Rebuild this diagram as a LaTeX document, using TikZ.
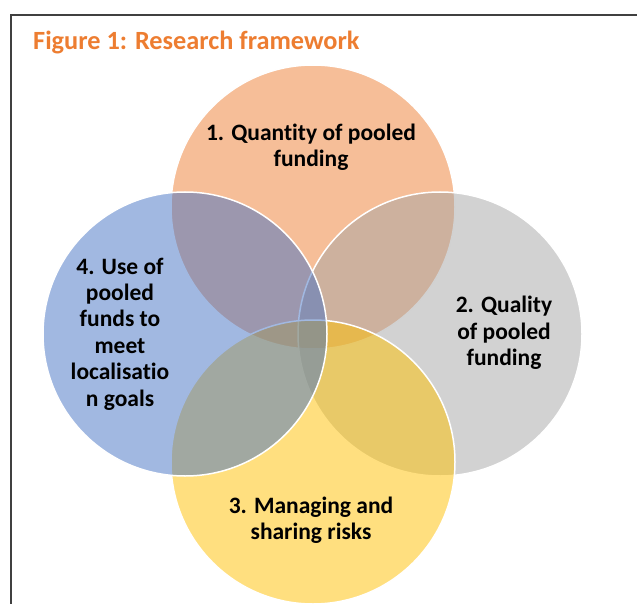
\documentclass[tikz,border=0pt]{standalone}
\usepackage{fontspec}
\setmainfont{Carlito}[Ligatures=NoCommon]
\definecolor{vennorange}{HTML}{ED7D31}
\definecolor{venngrey}{HTML}{A5A5A5}
\definecolor{vennyellow}{HTML}{FFC000}
\definecolor{vennblue}{HTML}{4472C4}
\definecolor{framegrey}{HTML}{404040}
\tikzset{
  venn/.style={draw=white, line width=1.5pt, fill=#1, fill opacity=0.5},
  label/.style={align=center, font=\bfseries\fontsize{23.5}{26.4}\selectfont, text=black}
}

\begin{document}
\begin{tikzpicture}[x=1pt, y=-1pt]
  \useasboundingbox (0,0) rectangle (637,604);
  \draw[framegrey, line width=1.2pt] (11,604) -- (11,15) -- (637,15);
  \node[anchor=base west, inner sep=0, text=vennorange, font=\bfseries\fontsize{26.3}{30}\selectfont] (title) at (33,50) {Figure 1: Research framework};
  % the four circles, drawn in order
  \draw[venn=vennorange] (313,207) circle (142);
  \draw[venn=venngrey] (440,334) circle (142);
  \draw[venn=vennyellow] (313,462) circle (142);
  \draw[venn=vennblue] (185,334) circle (142);
  \node[label] (quantity) at (311,147) {1. Quantity of pooled\\funding};
  \node[label] (quality) at (504,333) {2. Quality\\of pooled\\funding};
  \node[label] (risks) at (311,520) {3. Managing and\\sharing risks};
  \node[label] (localisation) at (120,334) {4. Use of\\pooled\\funds to\\meet\\localisatio\\n goals};
\end{tikzpicture}
\end{document}
